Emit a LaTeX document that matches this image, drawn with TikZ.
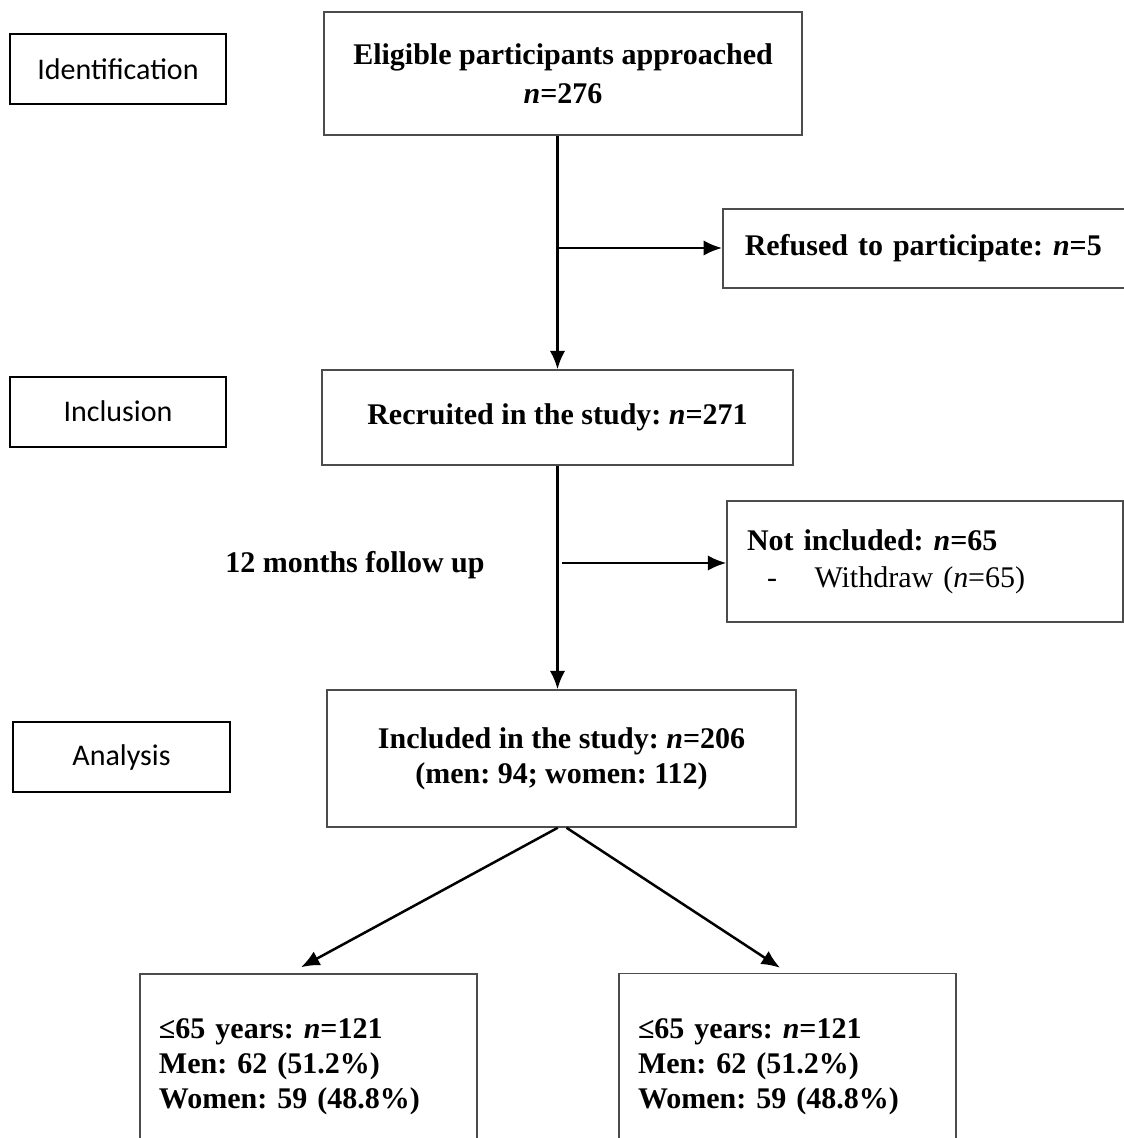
\documentclass[tikz,border=0pt]{standalone}
\usepackage{fontspec}
\setmainfont{Liberation Serif}
\newfontfamily\calibri{Carlito}
\usetikzlibrary{arrows.meta}
\frenchspacing
\tikzstyle{stage} = [rectangle, minimum width=86.4pt, minimum height=28pt, draw=black, line width=0.8pt, font=\calibri\fontsize{12}{14}\selectfont]
\tikzstyle{mainbox} = [rectangle, minimum width=188pt, text centered, align=center, draw=black!70, line width=0.6pt, font=\fontsize{12}{14}\selectfont\bfseries]
\tikzstyle{exclbox} = [rectangle, align=left, draw=black!70, line width=0.6pt, font=\fontsize{12}{14}\selectfont\bfseries]
\tikzstyle{agebox} = [rectangle, minimum height=74.4pt, text width=119.6pt, inner xsep=7.6pt, align=left, draw=black!70, line width=0.6pt, font=\fontsize{12}{14}\selectfont\bfseries]
\tikzstyle{note} = [font=\fontsize{12}{14}\selectfont\bfseries]

\begin{document}
\begin{tikzpicture}[x=0.4pt,y=-0.4pt,>={Latex[length=7.4pt,width=6.2pt]}]
    \useasboundingbox (0,0) rectangle (1124,1138);
    % stages on the left
    \node at (118,69.5) [stage] (ident) {Identification};
    \node at (118,411.5) [stage] (inclu) {Inclusion};
    \node at (121.5,757) [stage] (analy) {Analysis};

    % main column
    \node at (563,73.5) [mainbox,minimum width=191.2pt,minimum height=49.2pt] (elig) {Eligible participants approached\\[1.6pt]\textit{n}=276};
    \node at (557.5,417.5) [mainbox,minimum width=188.4pt,minimum height=38pt] (recr) {Recruited in the study: \textit{n}=271};
    \node at (561.5,758.5) [mainbox,minimum width=187.6pt,minimum height=54.8pt] (incl) {Included in the study: \textit{n}=206\\(men: 94; women: 112)};

    % exclusions
    \node at (940,248.5) [exclbox,text width=156.2pt,inner xsep=8.8pt,minimum height=31.6pt] (refu) {Refused to participate: \textit{n}=5};
    \node at (925,561.5) [exclbox,text width=142.4pt,inner xsep=8pt,minimum height=48.4pt] (notin) {Not included: \textit{n}=65\\[0.8pt]\mdseries\hspace*{8pt}-\hspace{15pt}Withdraw (\textit{n}=65)};
    \node at (355,565) [note] (follow) {12 months follow up};

    % age groups
    \node at (308.5,1067) [agebox] (grpa) {≤65 years: \textit{n}=121\\Men: 62 (51.2\%)\\Women: 59 (48.8\%)};
    \node at (787.5,1066.5) [agebox] (grpb) {≤65 years: \textit{n}=121\\Men: 62 (51.2\%)\\Women: 59 (48.8\%)};

    \coordinate (split1) at (558,248);
    \coordinate (split2) at (562,563);

    \draw[->,line width=1pt] (recr.north |- elig.south) -- (recr.north);
    \draw[->,line width=1pt] (split1) -- (split1 -| refu.west);
    \draw[->,line width=1pt] (recr.south) -- (recr.south |- incl.north);
    \draw[->,line width=1pt] (split2) -- (split2 -| notin.west);
    \draw[->,line width=1pt] ([xshift=-1.5pt]incl.south) -- ([xshift=-3pt,yshift=2.4pt]grpa.north);
    \draw[->,line width=1pt] ([xshift=2pt]incl.south) -- ([xshift=-3pt,yshift=2pt]grpb.north);
\end{tikzpicture}
\end{document}
